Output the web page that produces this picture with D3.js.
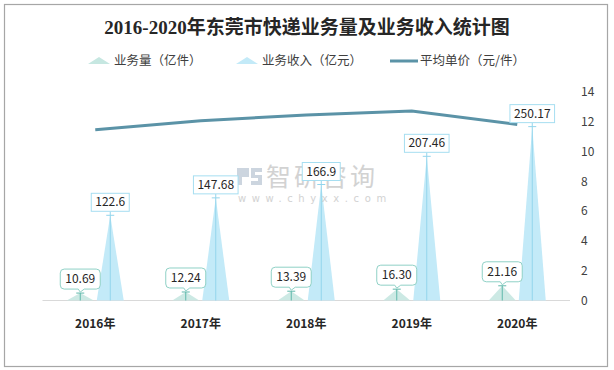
<!DOCTYPE html>
<html>
<head>
<meta charset="utf-8">
<script src="https://cdn.jsdelivr.net/npm/d3@7/dist/d3.min.js"></script>
<style>
  body { margin: 0; background: #fff; }
  text { font-family: "Noto Sans CJK SC", "Noto Sans", sans-serif; }
</style>
</head>
<body>
<div id="chart"></div>
<script>
// data
const years = ['2016年', '2017年', '2018年', '2019年', '2020年'];
const volume = [10.69, 12.24, 13.39, 16.30, 21.16];      // 业务量（亿件）
const revenue = [122.6, 147.68, 166.9, 207.46, 250.17];  // 业务收入（亿元）
const price = [11.47, 12.07, 12.46, 12.73, 11.82];       // 平均单价（元/件）
const volumeLabels = ['10.69', '12.24', '13.39', '16.30', '21.16'];
const revenueLabels = ['122.6', '147.68', '166.9', '207.46', '250.17'];
const rightTicks = [0, 2, 4, 6, 8, 10, 12, 14];

const W = 614, H = 370;
const svg = d3.select('#chart').append('svg')
  .attr('width', W).attr('height', H);

svg.append('rect').attr('width', W).attr('height', H).attr('fill', '#fff');
// outer frame
svg.append('rect')
  .attr('x', 4.5).attr('y', 4.5).attr('width', 603).attr('height', 362)
  .attr('fill', 'none').attr('stroke', '#a6a6a6').attr('stroke-width', 1.2);

// title
svg.append('text')
  .attr('x', 307).attr('y', 34)
  .attr('text-anchor', 'middle')
  .style('font-family', '"Liberation Serif", "Noto Sans CJK SC", serif')
  .style('font-size', '19px').style('font-weight', 'bold')
  .attr('fill', '#262626')
  .text('2016-2020年东莞市快递业务量及业务收入统计图');

// legend
const legend = svg.append('g').style('font-size', '12.5px').attr('fill', '#404040');
legend.append('path').attr('d', 'M88,64 L99,57 L110,64 Z').attr('fill', '#c6e7e1');
legend.append('text').attr('x', 114).attr('y', 64.5).text('业务量（亿件）');
legend.append('path').attr('d', 'M236,64 L247,57 L258,64 Z').attr('fill', '#c3eaf8');
legend.append('text').attr('x', 262).attr('y', 64.5).text('业务收入（亿元）');
legend.append('line').attr('x1', 390).attr('x2', 418).attr('y1', 61).attr('y2', 61)
  .attr('stroke', '#5b93a7').attr('stroke-width', 3);
legend.append('text').attr('x', 420).attr('y', 64.5).text('平均单价（元/件）');

// scales
const x = d3.scaleBand().domain(years).range([42.5, 570]);
const yL = d3.scaleLinear().domain([0, 300]).range([300.5, 92]);
const yR = d3.scaleLinear().domain([0, 14]).range([300.5, 92]);
const cx = d => x(d) + x.bandwidth() / 2;
const off = 15, half = 13.5;

// baseline
svg.append('line')
  .attr('x1', 42.5).attr('x2', 570).attr('y1', yL(0)).attr('y2', yL(0))
  .attr('stroke', '#d9d9d9').attr('stroke-width', 1);

// right axis
const rAxis = svg.append('g')
  .attr('transform', 'translate(581,0)')
  .call(d3.axisRight(yR).tickValues(rightTicks).tickSize(0).tickPadding(0));
rAxis.select('.domain').remove();
rAxis.selectAll('text')
  .style('font-family', '"Noto Sans CJK SC", sans-serif')
  .style('font-size', '12px').attr('fill', '#404040');

// x labels
svg.selectAll('.xl').data(years).enter().append('text')
  .attr('x', d => cx(d)).attr('y', 328)
  .attr('text-anchor', 'middle')
  .style('font-size', '12px').style('font-weight', 'bold')
  .attr('fill', '#262626')
  .text(d => d);

// triangles
const tri = (c, v, s) => {
  const b = s(0), t = s(v);
  return `M${c - half},${b} L${c},${t} L${c + half},${b} Z`;
};
svg.selectAll('.tv').data(years).enter().append('path')
  .attr('d', (d, i) => tri(cx(d) - off, volume[i], yL))
  .attr('fill', '#c6e7e1').attr('opacity', 0.9);
svg.selectAll('.tr').data(years).enter().append('path')
  .attr('d', (d, i) => tri(cx(d) + off, revenue[i], yL))
  .attr('fill', '#c3eaf8');

// watermark
const wm = svg.append('g').attr('opacity', 0.8);
wm.append('path')
  .attr('d', 'M237,168 h12 v9 h-7 v8 h-5 Z M251,168 h11 v4 h-7 v3 h7 v10 h-11 v-4 h7 v-3 h-7 Z')
  .attr('fill', '#c0cbd8');
wm.append('text').attr('x', 266).attr('y', 186)
  .style('font-size', '25px').attr('fill', '#c8c8c8')
  .style('letter-spacing', '3px')
  .text('智研咨询');
wm.append('text').attr('x', 238).attr('y', 202)
  .style('font-family', '"DejaVu Sans", sans-serif')
  .style('font-size', '10px').attr('fill', '#c8c8c8')
  .style('letter-spacing', '5.6px')
  .text('www.chyxx.com');

// price line
svg.append('path')
  .datum(price)
  .attr('d', d3.line().x((d, i) => cx(years[i])).y(d => yR(d)))
  .attr('fill', 'none').attr('stroke', '#5b93a7').attr('stroke-width', 3);

// revenue leaders and labels
years.forEach((d, i) => {
  const c = cx(d) + off, t = yL(revenue[i]);
  svg.append('line').attr('x1', c).attr('x2', c).attr('y1', t).attr('y2', yL(0))
    .attr('stroke', '#93d5ec').attr('stroke-width', 1);
  svg.append('line').attr('x1', c - 4).attr('x2', c + 4).attr('y1', t).attr('y2', t)
    .attr('stroke', '#93d5ec').attr('stroke-width', 1);
  const g = svg.append('g');
  const txt = g.append('text').attr('x', c).attr('y', t - 9)
    .attr('text-anchor', 'middle').style('font-size', '12px').attr('fill', '#262626')
    .text(revenueLabels[i]);
  const w = txt.node().getComputedTextLength() + 8;
  g.insert('rect', 'text')
    .attr('x', c - w / 2).attr('y', t - 22).attr('width', w).attr('height', 18)
    .attr('fill', '#fff').attr('stroke', '#a6def1').attr('stroke-width', 1);
  g.insert('line', 'rect').attr('x1', c).attr('x2', c).attr('y1', t - 4).attr('y2', t)
    .attr('stroke', '#93d5ec');
});

// volume leaders and callouts
years.forEach((d, i) => {
  const c = cx(d) - off, t = yL(volume[i]);
  svg.append('line').attr('x1', c).attr('x2', c).attr('y1', t).attr('y2', yL(0))
    .attr('stroke', '#5fb8ab').attr('stroke-width', 1);
  svg.append('line').attr('x1', c - 4).attr('x2', c + 4).attr('y1', t).attr('y2', t)
    .attr('stroke', '#5fb8ab').attr('stroke-width', 1);
  const g = svg.append('g');
  const txt = g.append('text').attr('x', c).attr('y', t - 10)
    .attr('text-anchor', 'middle').style('font-size', '12px').attr('fill', '#262626')
    .text(volumeLabels[i]);
  const w = txt.node().getComputedTextLength() + 10;
  const bx = c - w / 2, by = t - 24, bh = 20, r = 4, pb = by + bh;
  const p = `M${bx + r},${by} H${bx + w - r} Q${bx + w},${by} ${bx + w},${by + r}
    V${pb - r} Q${bx + w},${pb} ${bx + w - r},${pb} H${c + 4} L${c},${t - 1} L${c - 2},${pb}
    H${bx + r} Q${bx},${pb} ${bx},${pb - r} V${by + r} Q${bx},${by} ${bx + r},${by} Z`;
  g.insert('path', 'text').attr('d', p)
    .attr('fill', '#fff').attr('stroke', '#8fd1c6').attr('stroke-width', 1);
});
</script>
</body>
</html>
